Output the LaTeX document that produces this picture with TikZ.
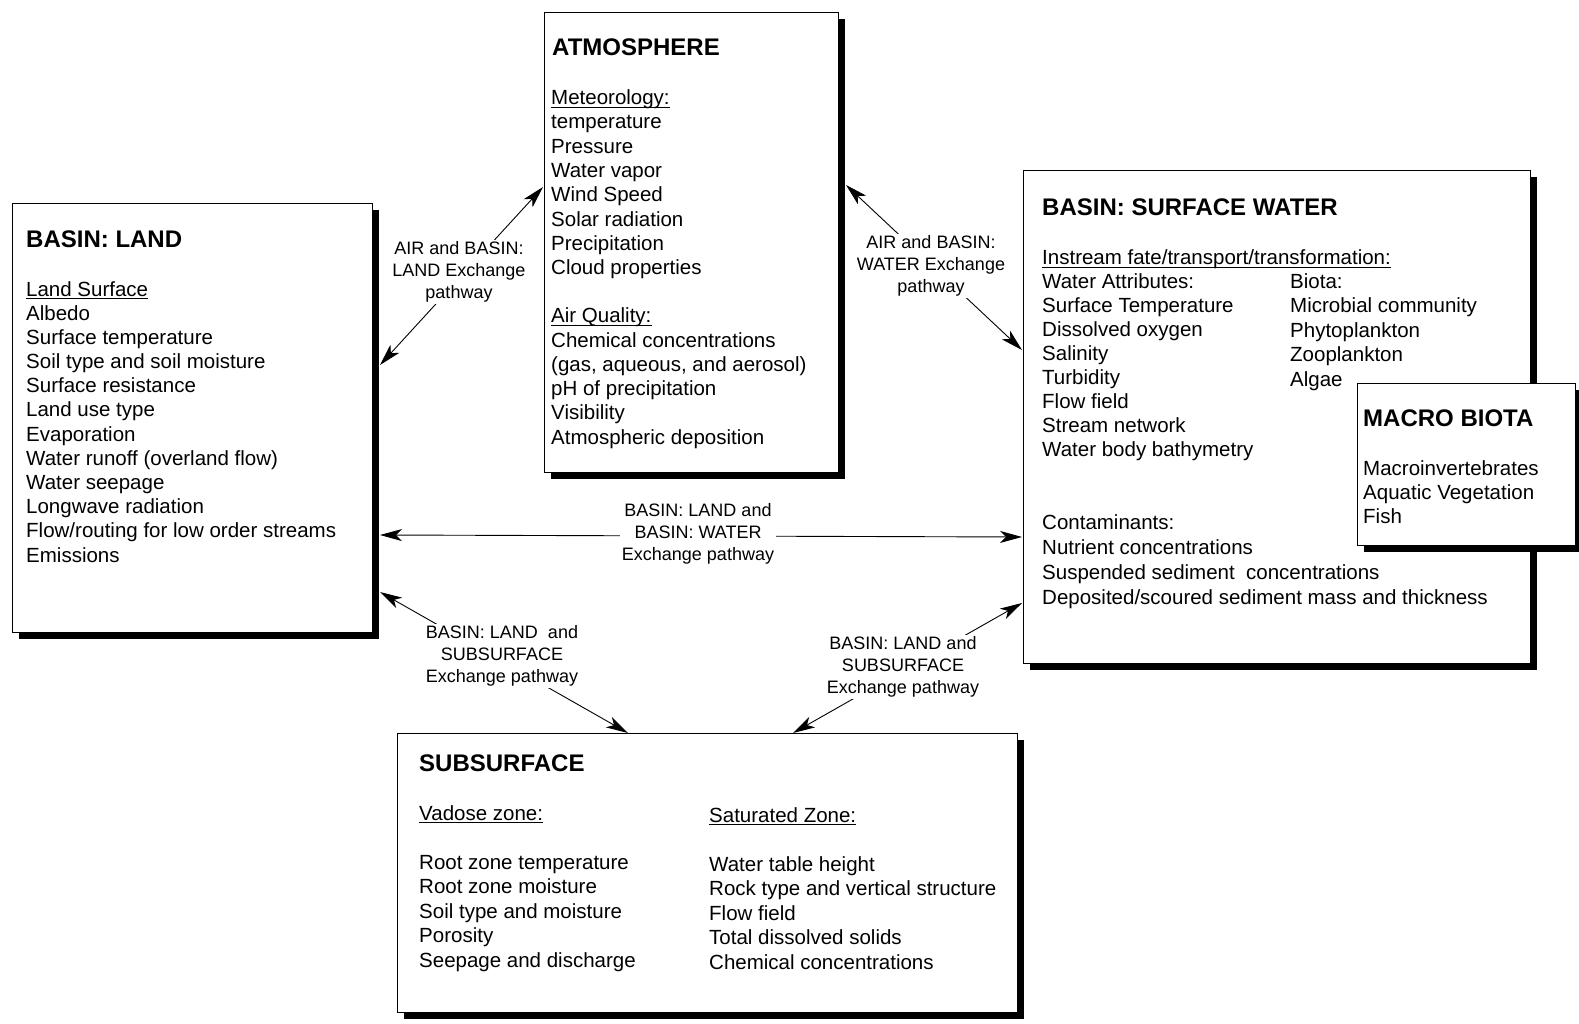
\documentclass[tikz,border=0pt]{standalone}
\usepackage{fontspec}
\setmainfont{Liberation Sans}
\usetikzlibrary{shadows,arrows.meta,calc}
\tikzset{
  box/.style={draw=black, line width=0.9pt, fill=white, inner sep=0pt, outer sep=0pt, anchor=north west,
    general shadow={fill=black, shadow xshift=7pt, shadow yshift=-7pt}},
  ttl/.style={anchor=base west, inner sep=0pt, font=\fontsize{24}{28}\selectfont\bfseries},
  itm/.style={anchor=base west, inner sep=0pt, font=\fontsize{20.5}{24}\selectfont},
  lbl/.style={align=center, fill=white, inner sep=2pt, font=\fontsize{18}{22}\selectfont},
  link/.style={line width=0.9pt, {Stealth[length=22pt,width=12pt,inset=6pt]}-{Stealth[length=22pt,width=12pt,inset=6pt]}},
  uline/.style={line width=1.1pt}
}
\begin{document}
\begin{tikzpicture}[x=1pt,y=-1pt]
\fill[white] (0,0) rectangle (1579,1024);
\useasboundingbox (0,0) rectangle (1579,1024);

% boxes
\node[box, minimum width=360pt, minimum height=429pt] (land) at (12,203) {};
\node[box, minimum width=294pt, minimum height=460pt] (atm) at (544,12) {};
\node[box, minimum width=507pt, minimum height=493pt] (sw) at (1023,170) {};
\node[box, minimum width=218pt, minimum height=162pt] (macro) at (1357,383) {};
\node[box, minimum width=620pt, minimum height=279pt] (sub) at (397,733) {};

% LAND
\node[ttl] (landt) at (26,247.5) {BASIN: LAND};
\node[itm] (landh) at (26,296) {Land Surface};
\draw[uline] ([yshift=-2.5pt]landh.base west) -- ([yshift=-2.5pt]landh.base east);
\foreach \t [count=\i from 0] in {Albedo, Surface temperature, Soil type and soil moisture, Surface resistance, Land use type, Evaporation, Water runoff (overland flow), Water seepage, Longwave radiation, Flow/routing for low order streams, Emissions}
  \node[itm] (land-\i) at (26,{320+24.2*\i}) {\t};

% ATMOSPHERE
\node[ttl] (atmt) at (552,55.5) {ATMOSPHERE};
\node[itm] (atmh1) at (551,105) {Meteorology:};
\draw[uline] ([yshift=-2.5pt]atmh1.base west) -- ([yshift=-2.5pt]atmh1.base east);
\foreach \t [count=\i from 0] in {temperature, Pressure, Water vapor, Wind Speed, Solar radiation, Precipitation, Cloud properties}
  \node[itm] (atma-\i) at (551,{129+24.3*\i}) {\t};
\node[itm] (atmh2) at (551,323) {Air Quality:};
\draw[uline] ([yshift=-2.5pt]atmh2.base west) -- ([yshift=-2.5pt]atmh2.base east);
\foreach \t [count=\i from 0] in {Chemical concentrations, {(gas, aqueous, and aerosol)}, pH of precipitation, Visibility, Atmospheric deposition}
  \node[itm] (atmb-\i) at (551,{347+24.25*\i}) {\t};

% SURFACE WATER
\node[ttl] (swt) at (1042,215.5) {BASIN: SURFACE WATER};
\node[itm] (swh) at (1042,265) {Instream fate/transport/transformation:};
\draw[uline] ([yshift=-2.5pt]swh.base west) -- ([yshift=-2.5pt]swh.base east);
\foreach \t [count=\i from 0] in {Water Attributes:, Surface Temperature, Dissolved oxygen, Salinity, Turbidity, Flow field, Stream network, Water body bathymetry}
  \node[itm] (swa-\i) at (1042,{288+24.1*\i}) {\t};
\foreach \t [count=\i from 0] in {Biota:, Microbial community, Phytoplankton, Zooplankton, Algae}
  \node[itm] (swb-\i) at (1290,{288+24.5*\i}) {\t};
\foreach \t [count=\i from 0] in {Contaminants:, Nutrient concentrations, Suspended sediment\ \ concentrations, Deposited/scoured sediment mass and thickness}
  \node[itm] (swc-\i) at (1042,{529+25*\i}) {\t};

% MACRO BIOTA
\node[ttl] (macrot) at (1363,426.5) {MACRO BIOTA};
\foreach \t [count=\i from 0] in {Macroinvertebrates, Aquatic Vegetation, Fish}
  \node[itm] (macro-\i) at (1363,{475+24*\i}) {\t};

% SUBSURFACE
\node[ttl] (subt) at (419,771.5) {SUBSURFACE};
\node[itm] (subh1) at (419,820) {Vadose zone:};
\draw[uline] ([yshift=-2.5pt]subh1.base west) -- ([yshift=-2.5pt]subh1.base east);
\node[itm] (subh2) at (709,822) {Saturated Zone:};
\draw[uline] ([yshift=-2.5pt]subh2.base west) -- ([yshift=-2.5pt]subh2.base east);
\foreach \t [count=\i from 0] in {Root zone temperature, Root zone moisture, Soil type and moisture, Porosity, Seepage and discharge}
  \node[itm] (suba-\i) at (419,{869+24.5*\i}) {\t};
\foreach \t [count=\i from 0] in {Water table height, Rock type and vertical structure, Flow field, Total dissolved solids, Chemical concentrations}
  \node[itm] (subb-\i) at (709,{871+24.5*\i}) {\t};

% connectors
\draw[link] ($(land.north east)+(8,162)$) -- ($(atm.north west)+(-1,175)$);
\draw[link] ($(atm.north east)+(8,173)$) -- ($(sw.north west)+(-1,180)$);
\draw[link] ($(land.north east)+(8,332)$) -- ($(sw.north west)+(-1,367)$);
\draw[link] ($(land.north east)+(8,389)$) -- ($(sub.north west)+(231,0)$);
\draw[link] ($(sw.north west)+(-1,433)$) -- ($(sub.north west)+(396,0)$);

% connector labels
\node[lbl] (l1) at (459,272) {AIR and BASIN:\\LAND Exchange\\pathway};
\node[lbl] (l2) at (931,266) {AIR and BASIN:\\WATER Exchange\\pathway};
\node[lbl] (l3) at (698,534) {BASIN: LAND and\\BASIN: WATER\\Exchange pathway};
\node[lbl] (l4) at (502,656) {BASIN: LAND\ \ and\\SUBSURFACE\\Exchange pathway};
\node[lbl] (l5) at (903,667) {BASIN: LAND and\\SUBSURFACE\\Exchange pathway};
\end{tikzpicture}
\end{document}
